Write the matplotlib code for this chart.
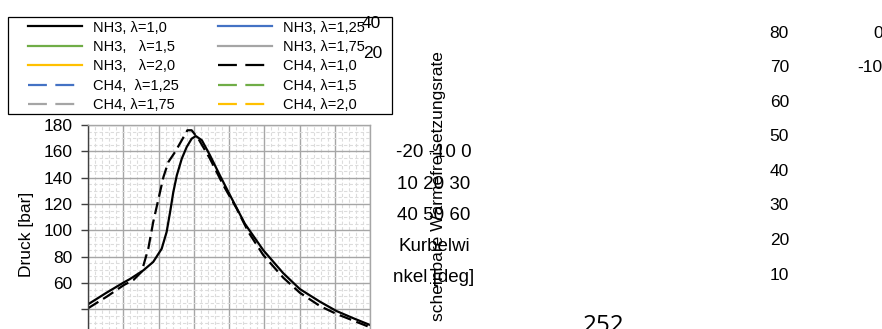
import matplotlib
matplotlib.use("Agg")
import matplotlib.pyplot as plt
from matplotlib.lines import Line2D
from matplotlib.patches import Rectangle
from matplotlib.ticker import MultipleLocator, FuncFormatter

plt.rcParams['font.family'] = ['Liberation Sans', 'DejaVu Sans']

W, H = 882, 329

# ---- data ----
nh3_deg = [-20, -14.7, -9.8, -8.1, -4.3, -1.5, 0.9, 2.3, 3.3, 4.2, 5.2, 6.6, 8.0, 9.4,
           10.6, 12.3, 14.6, 17.4, 20.3, 24.5, 29.7, 35.4, 40.1, 45.8, 50.5, 55.3, 60]
nh3_p = [43.8, 52.7, 60.5, 63.0, 69.6, 76.0, 86.0, 98.7, 114.0, 129.0, 141.8, 154.4, 163.3, 169.6,
         171.6, 168.4, 157.0, 141.8, 126.6, 105.0, 85.0, 67.4, 55.4, 45.8, 38.7, 33.2, 28.1]

ch4_deg = [-20, -14.7, -9.8, -7.1, -4.8, -2.9, -1.5, 0.0, 1.4, 2.8, 4.7, 6.6, 8.2, 9.4,
           11.3, 14.6, 18.4, 22.2, 25.5, 29.7, 35.4, 40.1, 45.8, 50.5, 55.3, 60]
ch4_p = [40.8, 49.6, 58.5, 62.3, 68.5, 86.0, 106.3, 124.0, 140.5, 151.9, 159.5, 168.4, 176.0, 176.0,
         169.6, 154.4, 134.2, 116.4, 98.7, 81.3, 64.0, 52.6, 42.5, 36.5, 31.4, 26.4]

legend_col1 = ["NH3, λ=1,0", "NH3,   λ=1,5", "NH3,   λ=2,0", "CH4,  λ=1,25", "CH4, λ=1,75"]
legend_col2 = ["NH3, λ=1,25", "NH3, λ=1,75", "CH4, λ=1,0", "CH4, λ=1,5", "CH4, λ=2,0"]

y_ticks = [0, 20, 40, 60, 80, 100, 120, 140, 160, 180]
xlabel_lines = ["-20 -10 0", "10 20 30", "40 50 60", "Kurbelwi", "nkel [deg]"]
right_labels = ["80", "70", "60", "50", "40", "30", "20", "10"]
stray_left = ["40", "20"]
far_right = ["0", "-10"]
ylabel = "Druck [bar]"
ylabel2 = "scheinbare Wärmefreisetzungsrate"
page_no = "252"

BLACK = "#000000"
BLUE = "#4472C4"
GREEN = "#70AD47"
GRAY = "#A5A5A5"
GOLD = "#FFC000"


def fx(x):
    return x / W


def fy(y):
    return 1 - y / H


fig = plt.figure(figsize=(W / 100, H / 100), dpi=100)

# axes: x from 88 to 370 px, y=180 at 125 px, y=0 at 362 px (below figure)
ax = fig.add_axes([fx(88), fy(362), (370 - 88) / W, (362 - 125) / H])
ax.set_xlim(-20, 60)
ax.set_ylim(0, 180)

ax.plot(nh3_deg, nh3_p, color=BLACK, lw=1.6, solid_joinstyle='round')
ax.plot(ch4_deg, ch4_p, color=BLACK, lw=1.6, ls=(0, (5.5, 2.5)))

ax.xaxis.set_major_locator(MultipleLocator(10))
ax.xaxis.set_minor_locator(MultipleLocator(2))
ax.yaxis.set_major_locator(MultipleLocator(20))
ax.yaxis.set_minor_locator(MultipleLocator(5))
ax.set_yticks(y_ticks)
ax.yaxis.set_major_formatter(FuncFormatter(lambda v, p: f"{int(v)}" if v >= 60 else ""))
ax.tick_params(axis='x', which='both', bottom=False, labelbottom=False)
ax.tick_params(axis='y', which='major', length=5, width=1, color='#404040',
               labelsize=12.5, pad=6)
ax.tick_params(axis='y', which='minor', left=False)
ax.grid(True, which='minor', color='#dcdcdc', lw=0.8, ls=(0, (3, 2)))
ax.grid(True, which='major', color='#a6a6a6', lw=1.0)
ax.set_axisbelow(True)
for s in ['top', 'right']:
    ax.spines[s].set_color('#a6a6a6')
    ax.spines[s].set_linewidth(1.0)
ax.spines['left'].set_color('#404040')
ax.spines['left'].set_linewidth(1.0)
ax.spines['bottom'].set_visible(False)

# y label
fig.text(fx(27), fy(234), ylabel, rotation=90, ha='center', va='center', fontsize=12.5)

# legend
def handle(color, dashed):
    return Line2D([], [], color=color, lw=1.6,
                  ls=(0, (8.5, 3.8)) if dashed else '-')

h1 = [handle(BLACK, False), handle(GREEN, False), handle(GOLD, False),
      handle(BLUE, True), handle(GRAY, True)]
h2 = [handle(BLUE, False), handle(GRAY, False), handle(BLACK, True),
      handle(GREEN, True), handle(GOLD, True)]
fig.legend(h1 + h2, legend_col1 + legend_col2, ncol=2, frameon=False,
           loc='upper left', bbox_to_anchor=(fx(28), fy(20.5)),
           borderpad=0, borderaxespad=0, fontsize=10.5,
           handlelength=3.7, handletextpad=0.75, columnspacing=2.7,
           labelspacing=0.37)
fig.patches.append(Rectangle((fx(8), fy(114)), 384 / W, 97 / H, fill=False,
                             ec='black', lw=0.9, transform=fig.transFigure))

# stray labels
fig.text(fx(362), fy(24), stray_left[0], ha='left', va='center', fontsize=12.5)
fig.text(fx(363), fy(53.5), stray_left[1], ha='left', va='center', fontsize=12.5)

# wrapped x label
for i, t in enumerate(xlabel_lines):
    fig.text(fx(434), fy(153 + 31.2 * i), t, ha='center', va='center', fontsize=13.5)

# rotated secondary label
fig.text(fx(438), fy(186), ylabel2, rotation=90, ha='center', va='center', fontsize=12.5)

# right-side numbers
for i, t in enumerate(right_labels):
    fig.text(fx(789), fy(33.5 + 34.5 * i), t, ha='right', va='center', fontsize=12.5)
fig.text(fx(873), fy(33.5), far_right[0], ha='left', va='center', fontsize=12.5)
fig.text(fx(857), fy(68), far_right[1], ha='left', va='center', fontsize=12.5)

# page number
fig.text(fx(604), fy(332.5), page_no, ha='center', va='baseline', fontsize=17.5,
         family=['Open Sans', 'DejaVu Sans'])

fig.savefig("out.png", dpi=100, facecolor='white')
